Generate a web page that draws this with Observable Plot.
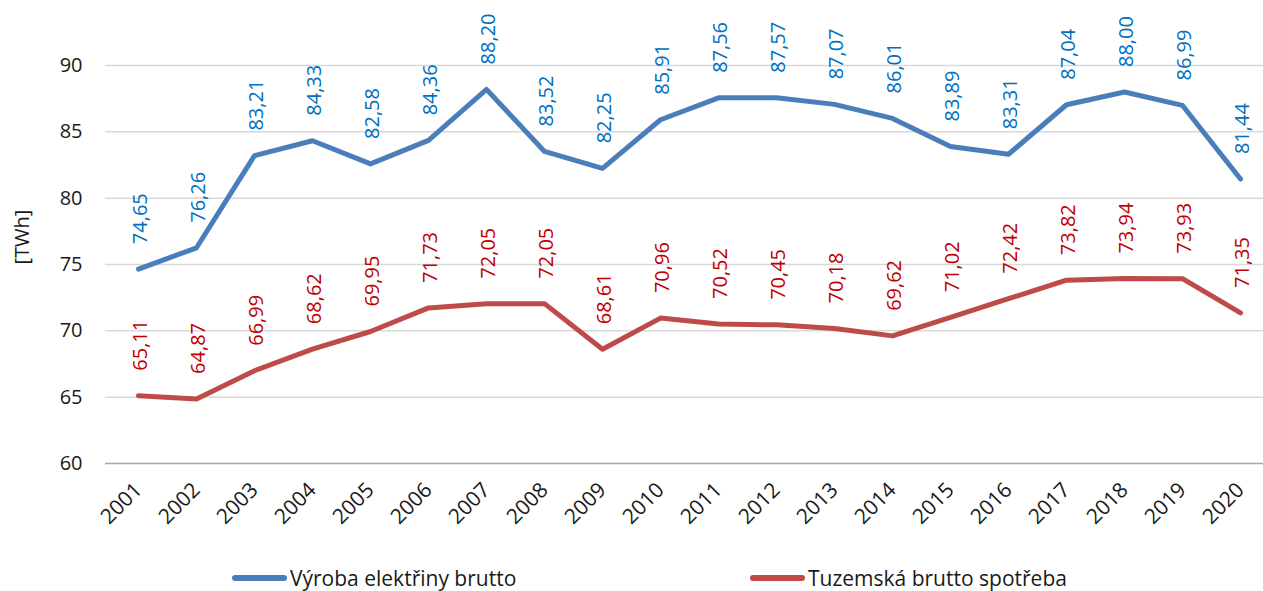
<!DOCTYPE html>
<html>
<head>
<meta charset="utf-8">
<script src="https://cdn.jsdelivr.net/npm/d3@7"></script>
<script src="https://cdn.jsdelivr.net/npm/@observablehq/plot@0.6"></script>
<style>
  html, body { margin: 0; padding: 0; background: #fff; }
  body { width: 1263px; height: 591px; overflow: hidden; font-family: "Open Sans", sans-serif; }
  #chart svg { overflow: hidden; }
  #legend { position: relative; height: 31px; font-size: 21px; color: #1a1a1a; }
  .item { position: absolute; top: 4px; display: flex; align-items: center; white-space: nowrap; }
  .sw { width: 55px; height: 6px; border-radius: 3px; margin-right: 3px; }
</style>
</head>
<body>
<div id="chart"></div>
<div id="legend"></div>
<script>
const years = ["2001","2002","2003","2004","2005","2006","2007","2008","2009","2010","2011","2012","2013","2014","2015","2016","2017","2018","2019","2020"];
const vyroba = [74.65,76.26,83.21,84.33,82.58,84.36,88.20,83.52,82.25,85.91,87.56,87.57,87.07,86.01,83.89,83.31,87.04,88.00,86.99,81.44];
const spotreba = [65.11,64.87,66.99,68.62,69.95,71.73,72.05,72.05,68.61,70.96,70.52,70.45,70.18,69.62,71.02,72.42,73.82,73.94,73.93,71.35];
const seriesNames = ["Výroba elektřiny brutto", "Tuzemská brutto spotřeba"];
const yTicks = [60, 65, 70, 75, 80, 85, 90];
const lineColors = ["#4a7ebb", "#be4b48"];
const labelColors = ["#0070c0", "#c00000"];

const rows = [];
[vyroba, spotreba].forEach((arr, s) => arr.forEach((v, i) => rows.push({year: years[i], value: v, series: seriesNames[s], s})));
const fmt = v => v.toFixed(2).replace(".", ",");

const chart = Plot.plot({
  width: 1263,
  height: 560,
  marginLeft: 105,
  marginRight: -10,
  marginTop: 65,
  marginBottom: 97,
  style: {fontFamily: "'Open Sans', sans-serif", fontSize: "20px", color: "#1a1a1a", background: "#fff", overflow: "hidden"},
  x: {type: "point", domain: years, padding: 0.5},
  y: {domain: [60, 90]},
  marks: [
    Plot.ruleY(yTicks.filter(t => t > 60), {stroke: "#d9d9d9", strokeWidth: 1.5}),
    Plot.ruleY([60], {stroke: "#a6a6a6", strokeWidth: 1.5}),
    Plot.axisY({ticks: yTicks, tickSize: 0, tickPadding: 23, label: null, fontSize: 20}),
    Plot.text(["[TWh]"], {frameAnchor: "left", dx: -83, rotate: -90, fontSize: 20, fill: "#1a1a1a"}),
    Plot.axisX({tickSize: 0, tickRotate: -45, tickPadding: 23, label: null, fontSize: 21}),
    Plot.line(rows, {x: "year", y: "value", z: "series", stroke: d => lineColors[d.s], strokeWidth: 5, strokeLinejoin: "round", strokeLinecap: "round"}),
    Plot.text(rows, {x: "year", y: "value", text: d => fmt(d.value), rotate: -90, textAnchor: "start", dy: -25, dx: 2, fill: d => labelColors[d.s], fontSize: 20})
  ]
});
document.getElementById("chart").appendChild(chart);

const legend = document.getElementById("legend");
const lefts = [232, 750];
seriesNames.forEach((n, i) => {
  const it = document.createElement("div");
  it.className = "item";
  it.style.left = lefts[i] + "px";
  it.innerHTML = `<span class="sw" style="background:${lineColors[i]}"></span><span>${n}</span>`;
  legend.appendChild(it);
});
</script>
</body>
</html>
